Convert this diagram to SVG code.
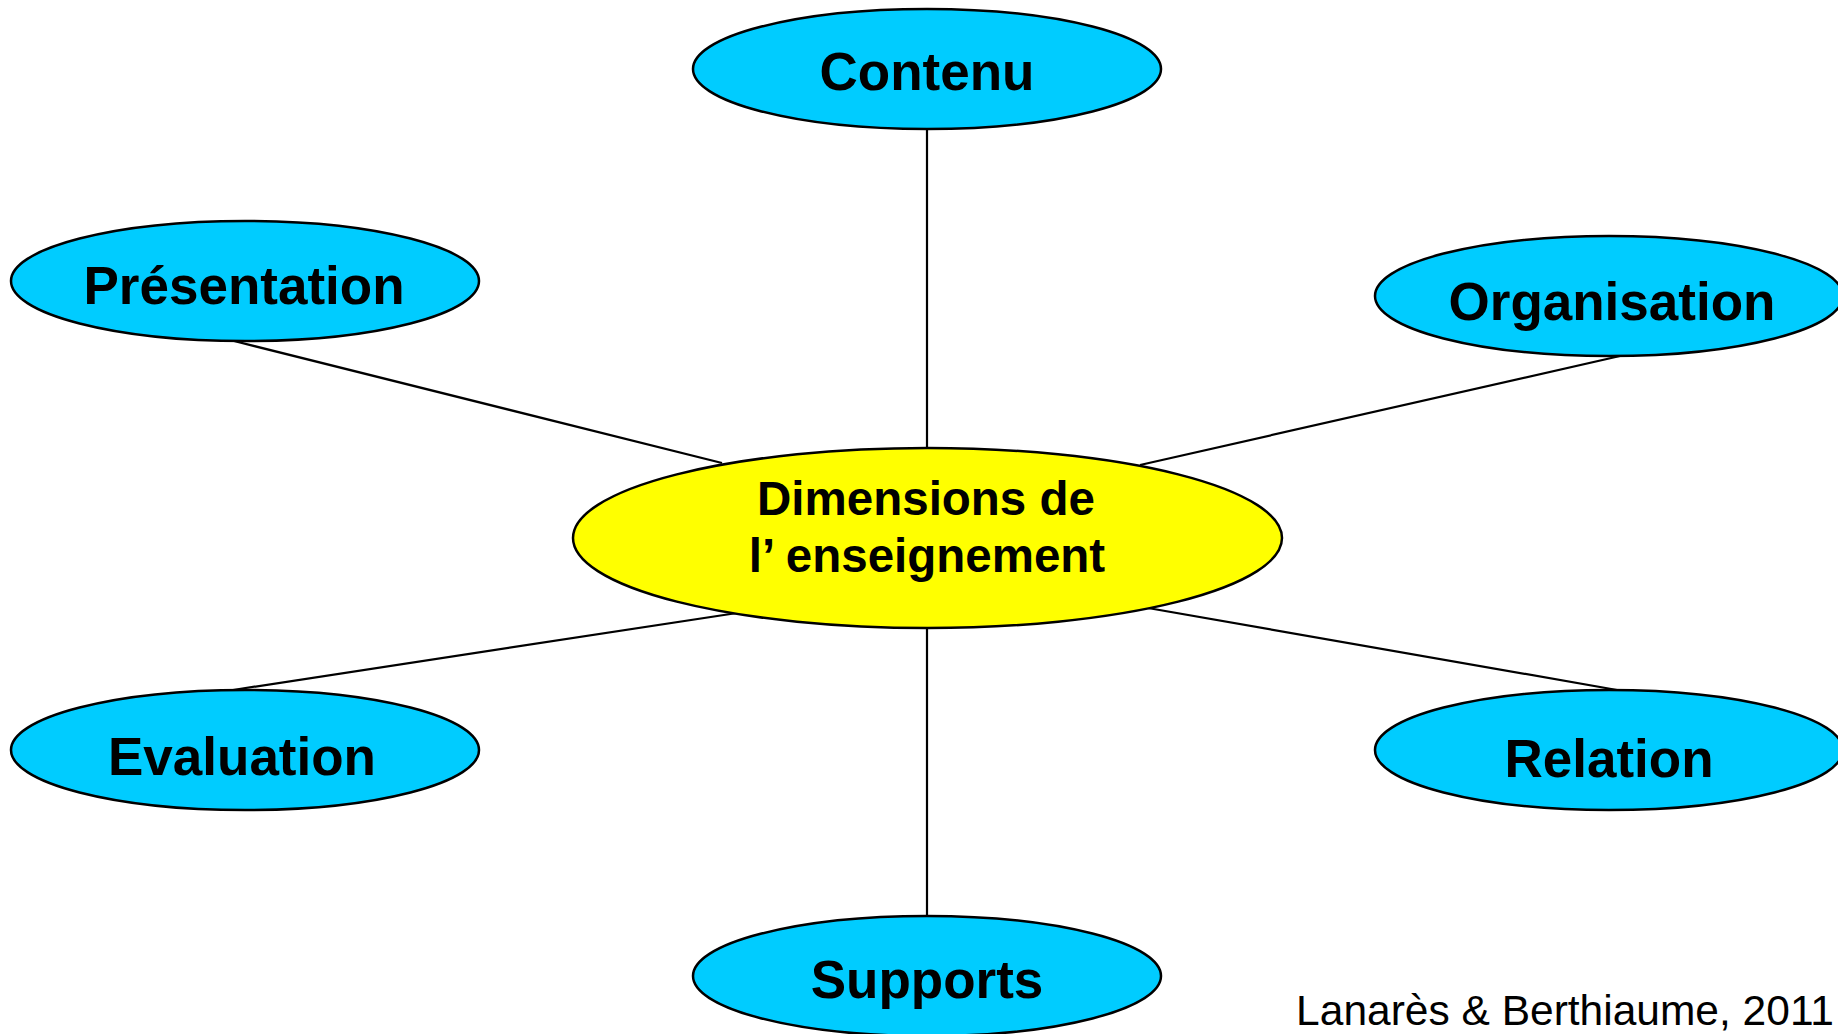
<svg xmlns="http://www.w3.org/2000/svg" width="1838" height="1034" viewBox="0 0 1838 1034">
<style>
.bg{fill:#ffffff}
.conn{stroke:#000;stroke-width:2.2;fill:none}
.leaf{fill:#00CCFF;stroke:#000;stroke-width:2.5}
.hub{fill:#FFFF00;stroke:#000;stroke-width:2.5}
.lbl{font-family:"Liberation Sans",Arial,sans-serif;font-weight:bold;font-size:53px;fill:#000;text-anchor:middle}
.hlbl{font-family:"Liberation Sans",Arial,sans-serif;font-weight:bold;font-size:47.5px;fill:#000;text-anchor:middle}
.cite{font-family:"Liberation Sans",Arial,sans-serif;font-size:42.5px;fill:#000;text-anchor:end}
</style>
<rect class="bg" x="0" y="0" width="1838" height="1034"/>
<g id="connectors">
<line class="conn" x1="927" y1="129" x2="927" y2="449"/>
<line class="conn" x1="234" y1="341" x2="722" y2="463"/>
<line class="conn" x1="1620" y1="356" x2="1140" y2="465"/>
<line class="conn" x1="233" y1="690" x2="737" y2="613"/>
<line class="conn" x1="1617" y1="690" x2="1148" y2="608"/>
<line class="conn" x1="927" y1="627" x2="927" y2="916"/>
</g>
<g id="node-contenu">
<ellipse class="leaf" cx="927" cy="69" rx="234" ry="60"/>
<text class="lbl" x="927" y="90">Contenu</text>
</g>
<g id="node-presentation">
<ellipse class="leaf" cx="245" cy="281" rx="234" ry="60"/>
<text class="lbl" x="244" y="304">Présentation</text>
</g>
<g id="node-organisation">
<ellipse class="leaf" cx="1609" cy="296" rx="234" ry="60"/>
<text class="lbl" x="1612" y="320">Organisation</text>
</g>
<g id="node-dimensions">
<ellipse class="hub" cx="927.5" cy="538" rx="354.5" ry="90"/>
<text class="hlbl" x="926" y="515">Dimensions de</text>
<text class="hlbl" x="927" y="572">l’ enseignement</text>
</g>
<g id="node-evaluation">
<ellipse class="leaf" cx="245" cy="750" rx="234" ry="60"/>
<text class="lbl" x="242" y="775">Evaluation</text>
</g>
<g id="node-relation">
<ellipse class="leaf" cx="1609" cy="750" rx="234" ry="60"/>
<text class="lbl" x="1609" y="777">Relation</text>
</g>
<g id="node-supports">
<ellipse class="leaf" cx="927" cy="976" rx="234" ry="60"/>
<text class="lbl" x="927" y="998">Supports</text>
</g>
<text class="cite" x="1834" y="1025">Lanarès &amp; Berthiaume, 2011</text>
</svg>
